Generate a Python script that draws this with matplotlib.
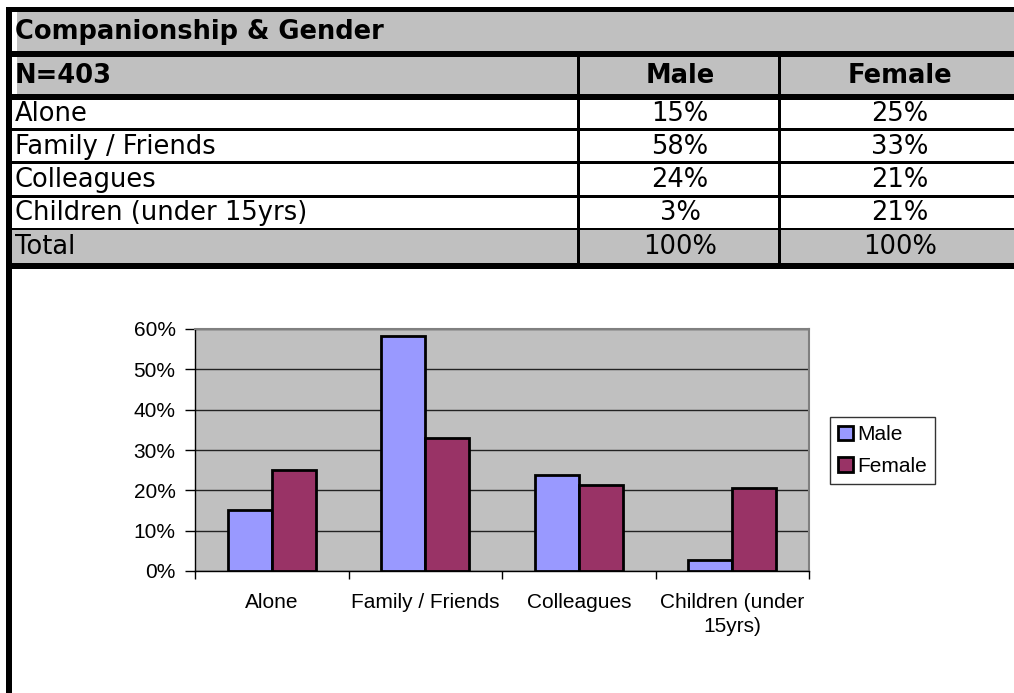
import matplotlib.pyplot as plt
from matplotlib.patches import Rectangle

# data
title = 'Companionship & Gender'
sample = 'N=403'
series = ['Male', 'Female']
categories = ['Alone', 'Family / Friends', 'Colleagues', 'Children (under 15yrs)']
chart_labels = ['Alone', 'Family / Friends', 'Colleagues', 'Children (under\n15yrs)']
male = [15.2, 58.2, 23.7, 2.7]
female = [25.1, 32.9, 21.2, 20.6]
total_label = 'Total'
totals = ['100%', '100%']

MALE_COLOR = '#9999FF'
FEMALE_COLOR = '#993366'
GRAY = '#C0C0C0'

plt.rcParams['font.family'] = ['Liberation Sans', 'DejaVu Sans']

W, H = 1014, 693
fig = plt.figure(figsize=(W / 100, H / 100), dpi=100)

# background layer in pixel coords for the table
bg = fig.add_axes([0, 0, 1, 1])
bg.set_xlim(0, W)
bg.set_ylim(H, 0)
bg.axis('off')


def box(x0, y0, x1, y1, color):
    bg.add_patch(Rectangle((x0, y0), x1 - x0, y1 - y0, facecolor=color,
                           edgecolor='none', zorder=1))


# gray rows
box(17, 12, W, 51, GRAY)
box(17, 57, W, 94, GRAY)
box(12, 230, W, 263, GRAY)

# thick rules
for y0, y1 in [(7, 12), (51, 57), (94, 100), (263, 269)]:
    box(6, y0, W, y1, 'black')
# thin rules between data rows
for y0, y1 in [(128, 131), (161, 164), (195, 198), (228, 230)]:
    box(6, y0, W, y1, 'black')
# left border and column dividers
box(6, 7, 12, H, 'black')
box(577, 57, 580, 263, 'black')
box(778, 57, 781, 263, 'black')

tfont = dict(family='DejaVu Sans', fontsize=18.5, va='center', zorder=3)
bg.text(15, 32, title, fontweight='bold', **tfont)
bg.text(15, 76, sample, fontweight='bold', **tfont)
col_x = [680, 900]
for cx, name in zip(col_x, series):
    bg.text(cx, 76, name, fontweight='bold', ha='center', **tfont)

row_y = [114, 147, 180, 213, 247]
for i, cat in enumerate(categories):
    bg.text(15, row_y[i], cat, **tfont)
    bg.text(col_x[0], row_y[i], f'{round(male[i])}%', ha='center', **tfont)
    bg.text(col_x[1], row_y[i], f'{round(female[i])}%', ha='center', **tfont)
bg.text(15, row_y[4], total_label, **tfont)
for cx, t in zip(col_x, totals):
    bg.text(cx, row_y[4], t, ha='center', **tfont)

# chart
left, right, top, bottom = 195, 809, 329, 571
ax = fig.add_axes([left / W, 1 - bottom / H, (right - left) / W, (bottom - top) / H])
ax.set_facecolor(GRAY)

cfont = 15

x = list(range(len(categories)))
bw = 1 / 3.5
ax.bar([i - bw / 2 for i in x], male, width=bw, color=MALE_COLOR,
       edgecolor='black', linewidth=2, label=series[0], zorder=3)
ax.bar([i + bw / 2 for i in x], female, width=bw, color=FEMALE_COLOR,
       edgecolor='black', linewidth=2, label=series[1], zorder=3)

ax.set_xlim(-0.5, len(categories) - 0.5)
ax.set_ylim(0, 60)
ax.set_yticks(range(0, 61, 10))
ax.set_yticklabels([f'{v}%' for v in range(0, 61, 10)], fontsize=cfont)
ax.yaxis.grid(True, color='#222222', linewidth=1)
ax.set_axisbelow(True)

ax.set_xticks([i - 0.5 for i in range(len(categories) + 1)])
ax.set_xticklabels([])
ax.set_xticks(x, minor=True)
ax.set_xticklabels(chart_labels, minor=True, fontsize=cfont, linespacing=1.3)
ax.tick_params(axis='x', which='major', length=6, width=1, direction='out')
ax.tick_params(axis='x', which='minor', length=0, pad=16)
ax.tick_params(axis='y', length=7, width=1, direction='out', pad=7)

for s in ['left', 'bottom']:
    ax.spines[s].set_color('black')
    ax.spines[s].set_linewidth(1)
for s in ['top', 'right']:
    ax.spines[s].set_color('#808080')
    ax.spines[s].set_linewidth(1.5)

leg = fig.legend(loc='upper left', bbox_to_anchor=(830 / W, 1 - 417 / H),
                 prop={'size': cfont},
                 frameon=True, fancybox=False, edgecolor='black',
                 handlelength=0.7, handleheight=0.7, handletextpad=0.2,
                 labelspacing=0.6, borderpad=0.4, borderaxespad=0)
leg.get_frame().set_linewidth(1)
for h in leg.legend_handles:
    h.set_linewidth(2)

fig.savefig('out.png', dpi=100)
